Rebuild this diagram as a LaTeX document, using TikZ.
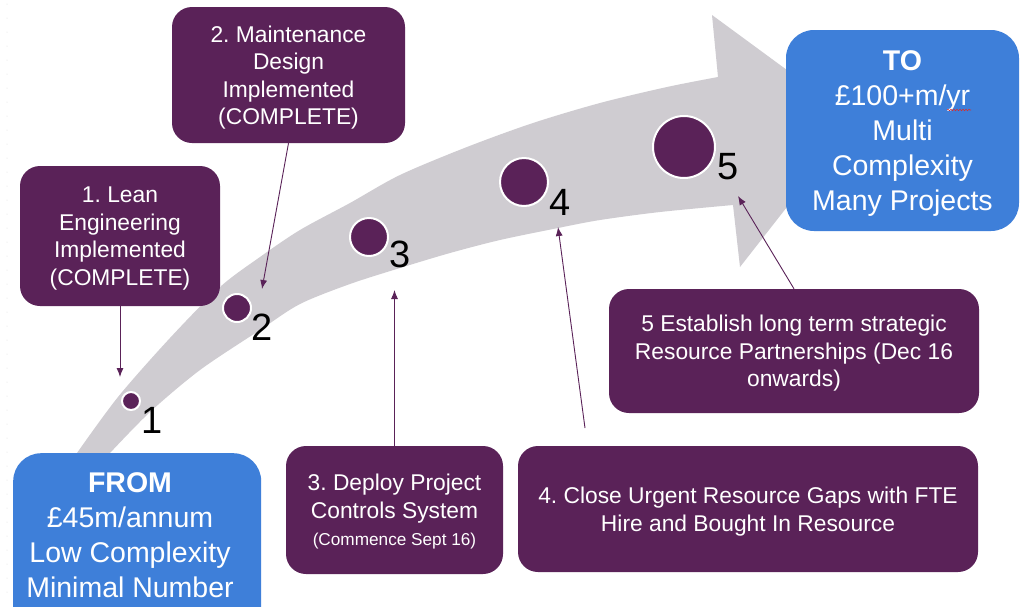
\documentclass[tikz,border=0pt]{standalone}
\usepackage{fontspec}
\setmainfont{Liberation Sans}
\usetikzlibrary{arrows.meta,decorations.pathmorphing}
\definecolor{plum}{RGB}{90,34,88}
\definecolor{skyb}{RGB}{62,127,217}
\definecolor{bandgray}{RGB}{207,204,209}
\definecolor{spellred}{RGB}{215,45,45}
\frenchspacing
\begin{document}
\begin{tikzpicture}[x=1pt,y=-1pt,
  purplebox/.style={fill=plum, rounded corners=20pt, text=white, align=center,
    font=\fontsize{22.8}{27.5}\selectfont, inner sep=0pt, text depth=0pt},
  bluebox/.style={fill=skyb, rounded corners=28pt, text=white, align=center,
    font=\fontsize{28.5}{35}\selectfont, inner sep=0pt, text depth=0pt},
  bluetext/.style={text=white, align=center, font=\fontsize{28.5}{35}\selectfont, inner sep=0pt, text depth=0pt},
  milestone/.style={circle, fill=plum, draw=white, line width=2pt, inner sep=0pt},
  numlabel/.style={font=\fontsize{38}{40}\selectfont, inner sep=0pt, text=black},
  conn/.style={plum, line width=0.9pt, -{Latex[length=9pt,width=7pt]}},
]
\useasboundingbox (0,0) rectangle (1021,606);
\clip (0,0) rectangle (1021,606);
\fill[white] (0,0) rectangle (1021,606);

% faint dotted guide at the left edge
\draw[black!12, line width=1pt, line cap=round, dash pattern=on 0pt off 14pt] (7,4) -- (7,606);

% the curved gray arrow
\fill[bandgray] (65,470) -- plot[smooth, tension=0.5] coordinates {(77,453) (118,397) (170,338) (220,287) (260,257) (300,230) (350,203) (400,175) (467,147) (533,123) (600,103) (667,87) (718,77)}
  -- (712,15) -- (855,120) -- (740,267) -- (733,205)
  -- plot[smooth, tension=0.5] coordinates {(733,205) (660,212) (600,220) (558,228) (500,240) (450,253) (400,268) (350,284) (300,304) (260,330) (200,370) (150,412) (110,453)}
  -- (97,470) -- cycle;

% milestones
\node[milestone, minimum size=18pt] (m1) at (131,401) {};
\node[milestone, minimum size=28pt] (m2) at (237,308) {};
\node[milestone, minimum size=38pt] (m3) at (369,237) {};
\node[milestone, minimum size=48pt] (m4) at (524,182) {};
\node[milestone, minimum size=62pt] (m5) at (684,147) {};
\node[numlabel] (n1) at (152,420) {1};
\node[numlabel] (n2) at (262,327) {2};
\node[numlabel] (n3) at (400,254) {3};
\node[numlabel] (n4) at (560,202) {4};
\node[numlabel] (n5) at (728,167) {5};

% boxes
\node[purplebox, minimum width=233pt, minimum height=136pt] (b2) at (288.5,75)
  {2. Maintenance\\Design\\Implemented\\(COMPLETE)};
\node[purplebox, minimum width=200pt, minimum height=140pt] (b1) at (120,236)
  {1. Lean\\Engineering\\Implemented\\(COMPLETE)};
\node[purplebox, minimum width=217pt, minimum height=128pt] (b3) at (394.5,510)
  {3. Deploy Project\\Controls System\\{\fontsize{17.2}{21}\selectfont (Commence Sept 16)}};
\node[purplebox, minimum width=460pt, minimum height=126pt] (b4) at (748,509)
  {4. Close Urgent Resource Gaps with FTE\\Hire and Bought In Resource};
\node[purplebox, minimum width=370pt, minimum height=124pt] (b5) at (794,351)
  {5 Establish long term strategic\\Resource Partnerships (Dec 16\\onwards)};
\node[bluebox, minimum width=233pt, minimum height=201pt] (to) at (902.5,130.5)
  {\textbf{TO}\\£100+m/yr\\Multi\\Complexity\\Many Projects};
\node[bluebox, minimum width=248pt, minimum height=200pt, anchor=north west] (from) at (13,453) {};
\node[bluetext] (fromtxt) at (130,535)
  {\textbf{FROM}\\£45m/annum\\Low Complexity\\Minimal Number};

% spell-check underline
\draw[spellred, line width=0.6pt, decorate, decoration={snake, amplitude=0.7pt, segment length=3pt}] (947,110) -- (971,110);

% connectors
\coordinate (t1) at (120,377);
\coordinate (t2) at (262,289);
\coordinate (t3) at (394.5,290);
\coordinate (s4) at (585,428);
\coordinate (t4) at (558,227);
\coordinate (t5) at (738,196);
\draw[conn] (b1.south) -- (t1);
\draw[conn] (b2.south) -- (t2);
\draw[conn] (b3.north) -- (t3);
\draw[conn] (s4) -- (t4);
\draw[conn] (b5.north) -- (t5);
\end{tikzpicture}
\end{document}
